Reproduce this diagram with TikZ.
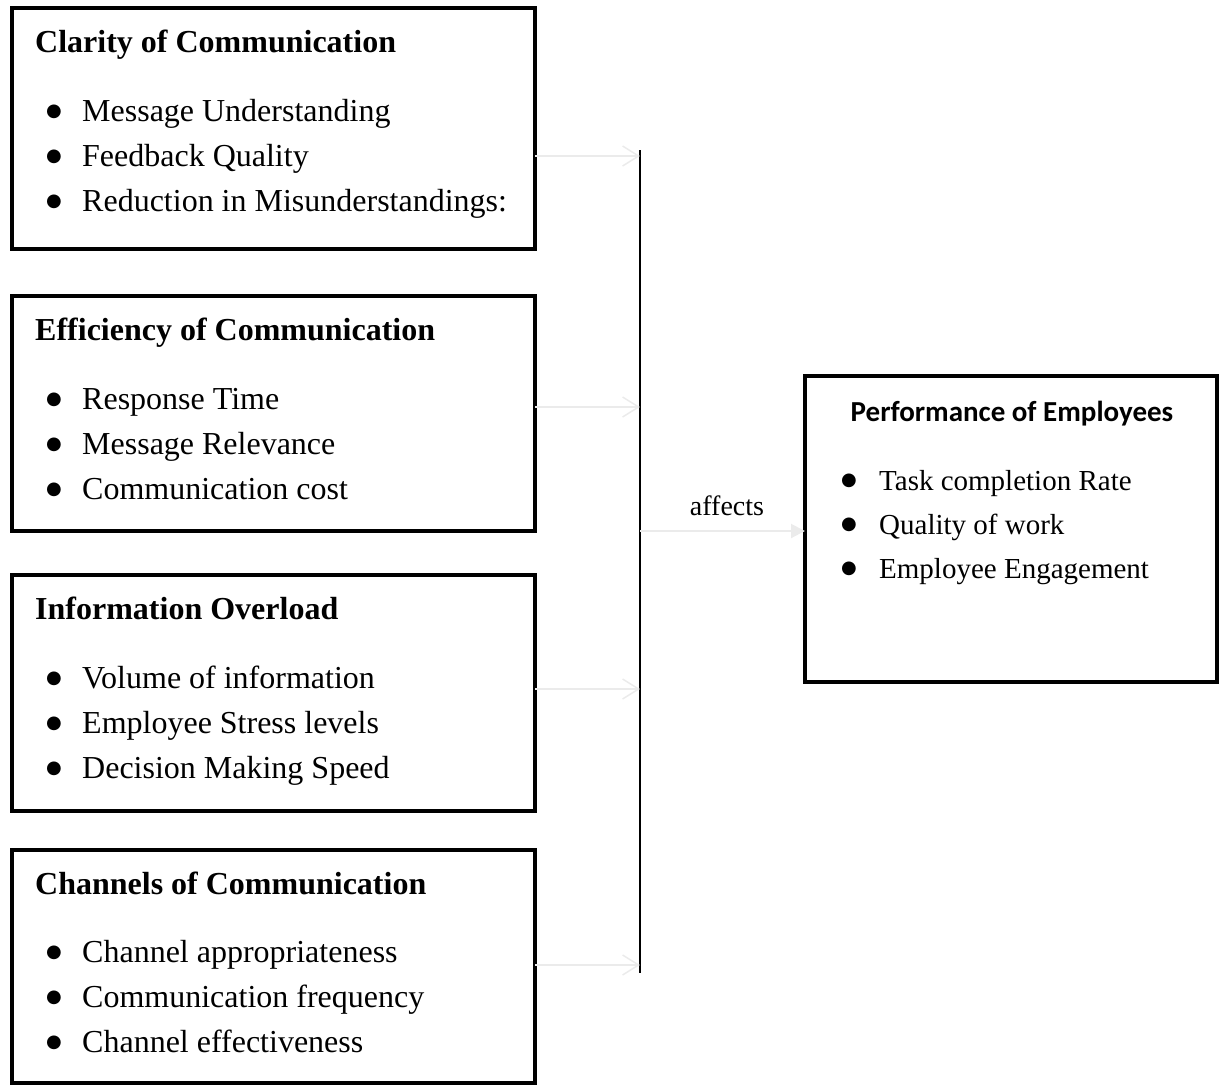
\documentclass[tikz,border=0pt]{standalone}
\usepackage{fontspec}
\setmainfont{Liberation Serif}
\newfontfamily\calfont{Carlito}
\newfontfamily\dotfont{DejaVu Sans}
\usetikzlibrary{arrows.meta}
% list marker: a round dot set in a box of the given width
\newcommand\bigbullet[1]{\makebox[#1][l]{\raisebox{5pt}{\dotfont\fontsize{18}{18}\selectfont ●}}}

\begin{document}
\begin{tikzpicture}[x=1pt,y=-1pt,
  box/.style={draw, line width=4pt, rectangle, inner sep=0pt, outer sep=0pt},
  head/.style={anchor=base west, inner sep=0pt, font=\fontsize{32}{38}\selectfont\bfseries},
  item/.style={anchor=base west, inner sep=0pt, font=\fontsize{32}{38}\selectfont},
  ritem/.style={anchor=base west, inner sep=0pt, font=\fontsize{29}{35}\selectfont},
  feed/.style={draw=black!8, line width=2pt, -{Straight Barb[length=16pt,width=20pt,line width=1.5pt]}},
  effect/.style={draw=black!8, line width=2pt, -{Triangle[length=14pt,width=14pt]}},
  bus/.style={draw=black, line width=2.5pt}]
\useasboundingbox (0,0) rectangle (1219,1085);

% four factor boxes on the left
\node[box, minimum width=523pt, minimum height=241pt] (b1) at (273.5,128.5) {};
\node[box, minimum width=523pt, minimum height=235pt] (b2) at (273.5,413.5) {};
\node[box, minimum width=523pt, minimum height=236pt] (b3) at (273.5,693) {};
\node[box, minimum width=523pt, minimum height=233pt] (b4) at (273.5,966.5) {};
% outcome box
\node[box, minimum width=412pt, minimum height=306pt] (rb) at (1011,529) {};

% headings
\node[head] (h1) at (35,52) {Clarity of Communication};
\node[head] (h2) at (35,340) {Efficiency of Communication};
\node[head] (h3) at (35,619) {Information Overload};
\node[head] (h4) at (35,894) {Channels of Communication};
\node[anchor=base, inner sep=0pt, font=\calfont\fontsize{29}{34}\selectfont\bfseries] (h5) at (1012,421) {Performance of Employees};

% bullet lists
\foreach \t [count=\k] in {Message Understanding, Feedback Quality, Reduction in Misunderstandings:}
  \node[item] (b1i\k) at (46,{121+45*(\k-1)}) {\bigbullet{36pt}\t};
\foreach \t [count=\k] in {Response Time, Message Relevance, Communication cost}
  \node[item] (b2i\k) at (46,{409+45*(\k-1)}) {\bigbullet{36pt}\t};
\foreach \t [count=\k] in {Volume of information, Employee Stress levels, Decision Making Speed}
  \node[item] (b3i\k) at (46,{688+45*(\k-1)}) {\bigbullet{36pt}\t};
\foreach \t [count=\k] in {Channel appropriateness, Communication frequency, Channel effectiveness}
  \node[item] (b4i\k) at (46,{962+45*(\k-1)}) {\bigbullet{36pt}\t};
\foreach \t [count=\k] in {Task completion Rate, Quality of work, Employee Engagement}
  \node[ritem] (rbi\k) at (841,{490+44*(\k-1)}) {\bigbullet{38pt}\t};

% collecting line
\coordinate (bt) at (640,150);
\coordinate (bb) at (640,973);
\draw[bus] (bt) -- (bb);
\coordinate (f1) at (640,156);
\coordinate (f2) at (640,407);
\coordinate (f3) at (640,689);
\coordinate (f4) at (640,965);
\coordinate (fe) at (640,531);

% arrows into the collecting line
\draw[feed] (b1.east |- f1) -- (f1);
\draw[feed] (b2.east |- f2) -- (f2);
\draw[feed] (b3.east |- f3) -- (f3);
\draw[feed] (b4.east |- f4) -- (f4);

% effect arrow
\draw[effect] (fe) -- (rb.west |- fe);
\node[font=\fontsize{28}{34}\selectfont, inner sep=0pt] (aff) at (727,506) {affects};
\end{tikzpicture}
\end{document}
